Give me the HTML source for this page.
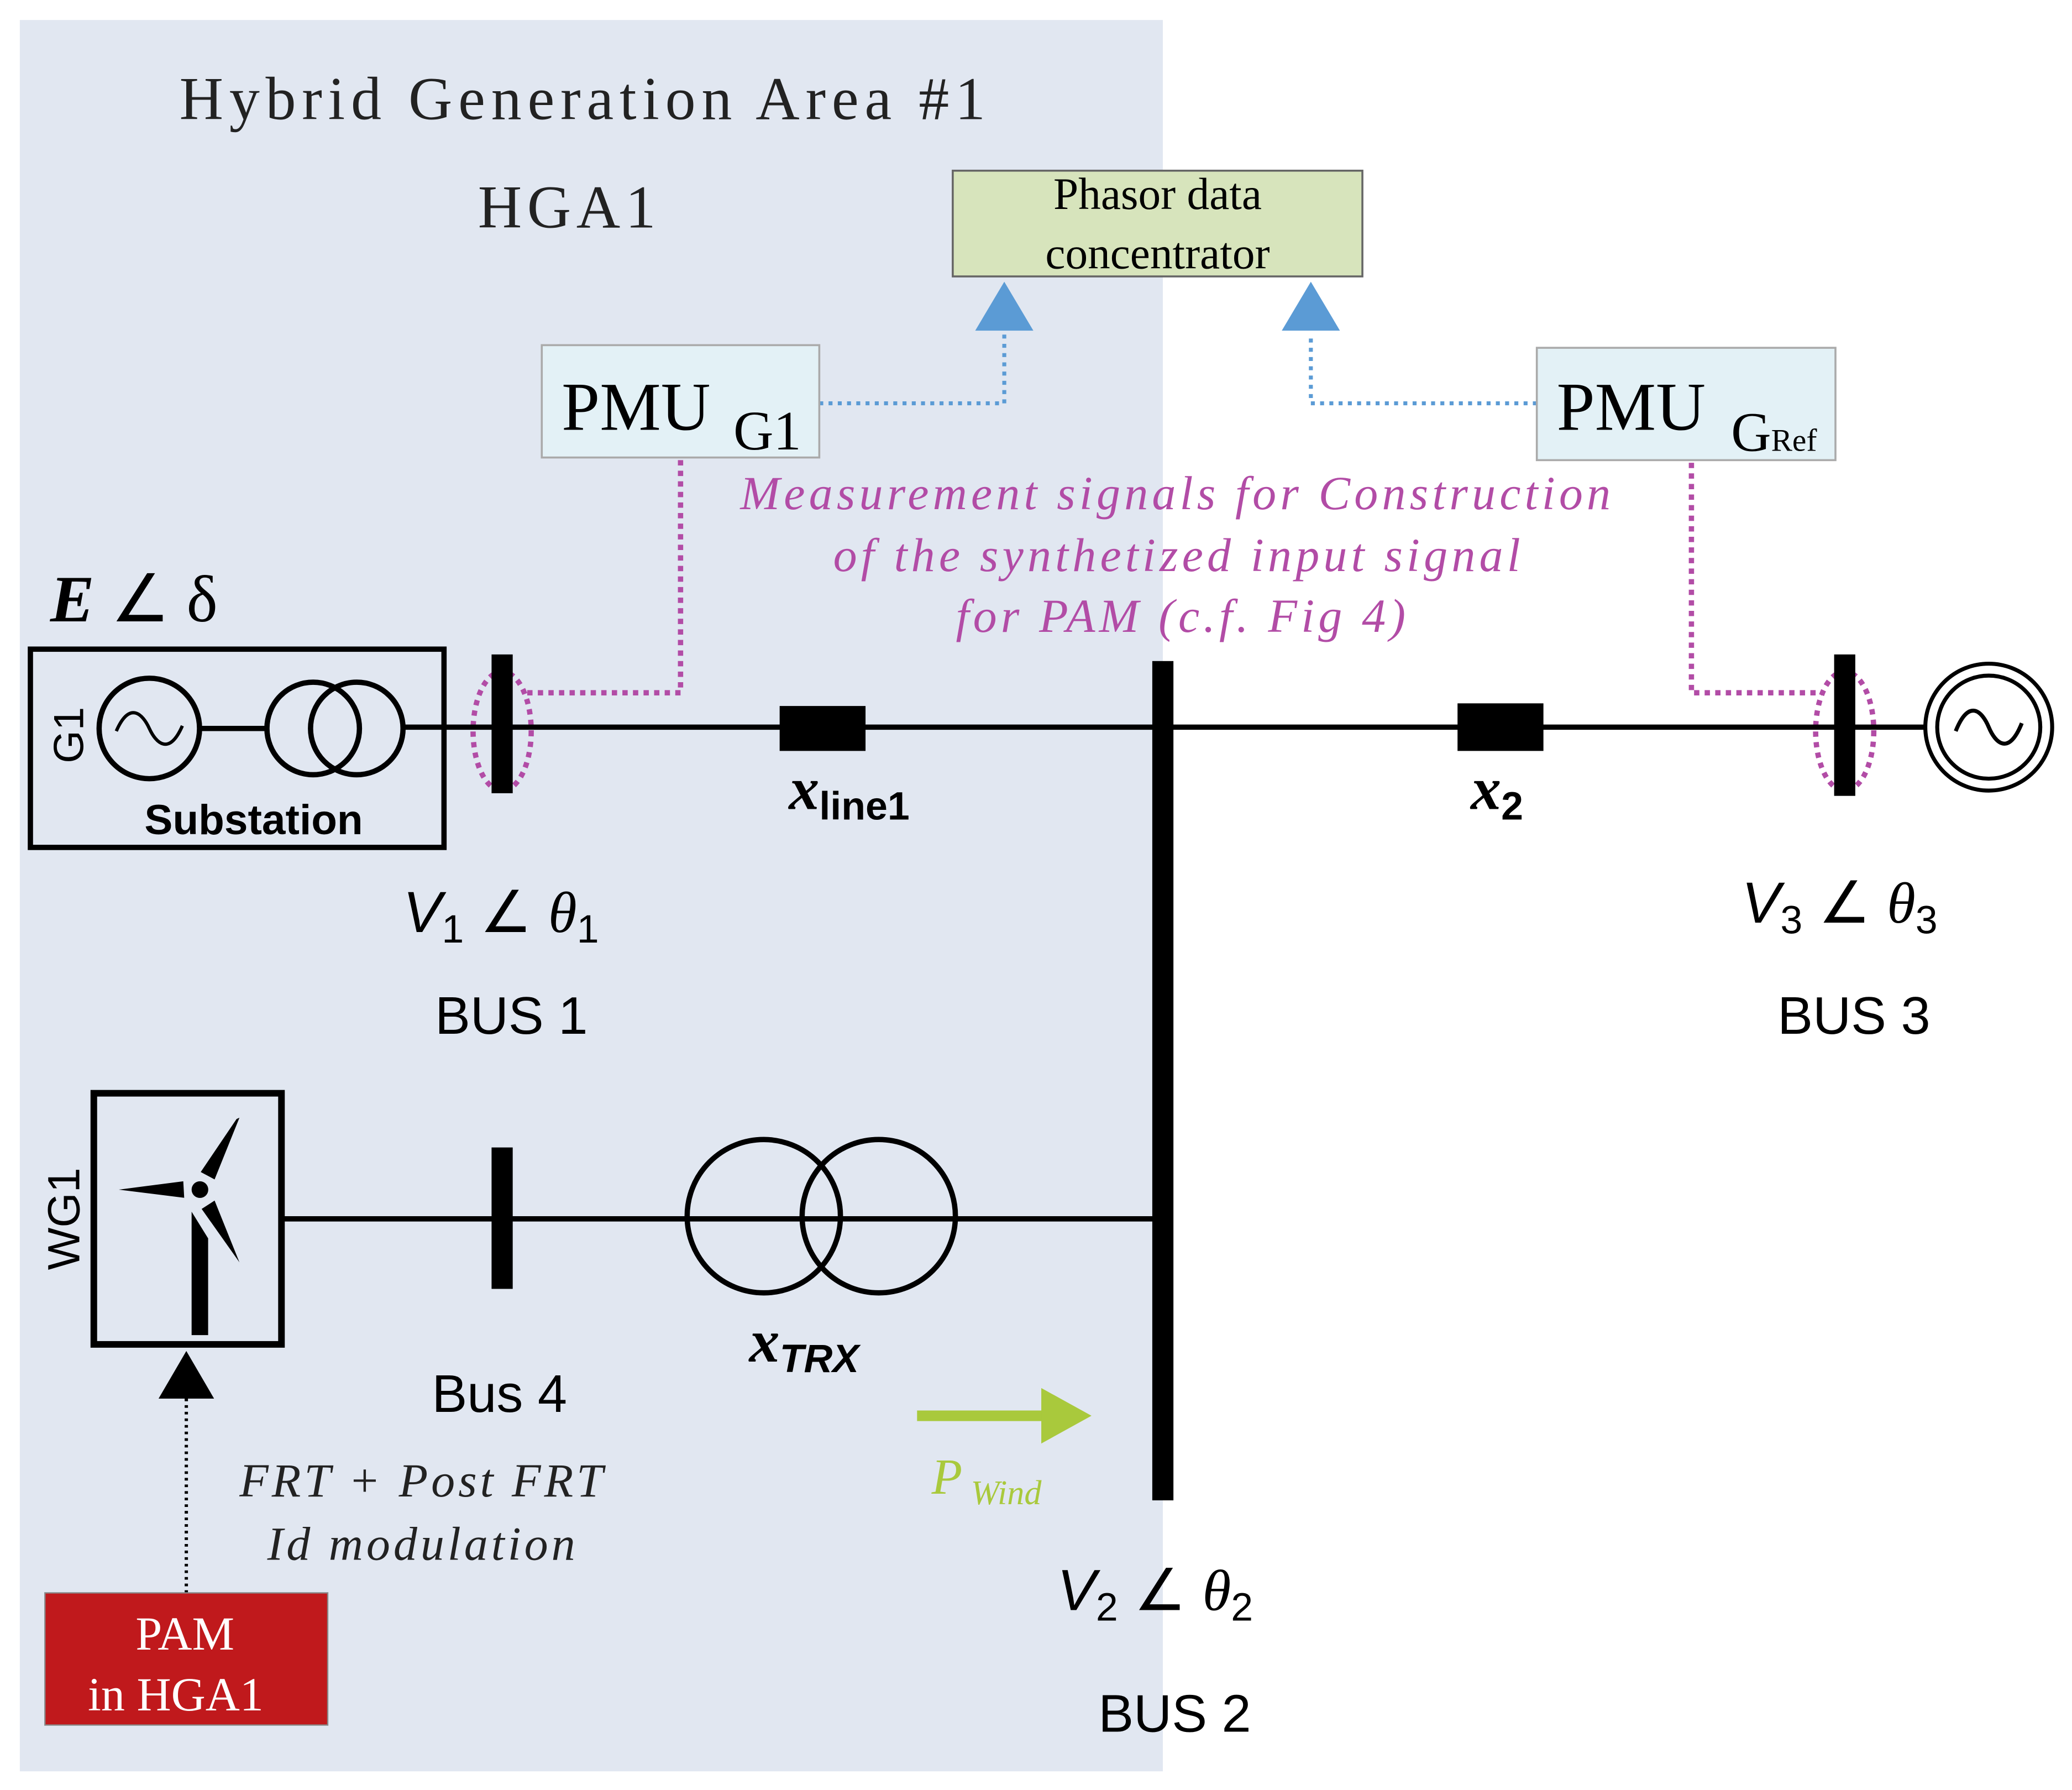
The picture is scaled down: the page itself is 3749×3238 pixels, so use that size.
<!DOCTYPE html>
<html><head><meta charset="utf-8"><style>html,body{margin:0;padding:0;background:#fff}svg{display:block}</style></head>
<body>
<svg width="3749" height="3238" viewBox="0 0 1568 1354" xmlns="http://www.w3.org/2000/svg">
<rect x="0" y="0" width="1568" height="1354" fill="#fff"/>
<rect x="15" y="15" width="865" height="1325" fill="#e1e7f1"/>
<g font-family="Liberation Serif, serif" fill="#222">
<text x="443" y="90" font-size="46" text-anchor="middle" letter-spacing="4.5">Hybrid Generation Area #1</text>
<text x="431" y="172" font-size="46" text-anchor="middle" letter-spacing="4">HGA1</text>
</g>
<rect x="721" y="129" width="310" height="80" fill="#d7e4bc" stroke="#666" stroke-width="1.5"/>
<g font-family="Liberation Serif, serif" font-size="34" text-anchor="middle" fill="#000">
<text x="876" y="158">Phasor data</text><text x="876" y="203">concentrator</text></g>
<polygon points="760,213 738,250 782,250" fill="#5b9bd5"/>
<polygon points="992,213 970,250 1014,250" fill="#5b9bd5"/>
<g fill="none" stroke="#5b9bd5" stroke-width="3" stroke-dasharray="3,4">
<polyline points="620,305 760,305 760,252"/>
<polyline points="1163,305 992,305 992,252"/></g>
<rect x="410" y="261" width="210" height="85" fill="#e3f1f6" stroke="#aaa" stroke-width="1.5"/>
<text x="425" y="325" font-family="Liberation Serif, serif" font-size="52">PMU</text>
<text x="555" y="340" font-family="Liberation Serif, serif" font-size="42">G1</text>
<rect x="1163" y="263" width="226" height="85" fill="#e3f1f6" stroke="#aaa" stroke-width="1.5"/>
<text x="1178" y="325" font-family="Liberation Serif, serif" font-size="52">PMU</text>
<text x="1310" y="341" font-family="Liberation Serif, serif" font-size="42">G<tspan font-size="24">Ref</tspan></text>
<g font-family="Liberation Serif, serif" font-style="italic" font-size="36" fill="#b24ca6" text-anchor="middle" letter-spacing="3">
<text x="891" y="385">Measurement signals for Construction</text>
<text x="892" y="432">of the synthetized input signal</text>
<text x="895" y="478">for PAM (c.f. Fig 4)</text></g>
<g fill="none" stroke="#b24ca6" stroke-width="4" stroke-dasharray="4,4">
<polyline points="515,348 515,524 395,524"/>
<ellipse cx="380" cy="553" rx="22" ry="45"/>
<polyline points="1280,350 1280,524 1380,524"/>
<ellipse cx="1396" cy="553" rx="22" ry="45"/></g>
<text x="38" y="470" font-family="Liberation Serif, serif" font-size="50"><tspan font-weight="bold" font-style="italic">E</tspan> ∠ δ</text>
<rect x="23" y="491" width="313" height="150" fill="none" stroke="#000" stroke-width="4"/>
<g fill="none" stroke="#000" stroke-width="4">
<circle cx="113" cy="551" r="38"/>
<path d="M88,553 C98,530 108,540 113,551 C118,562 128,572 138,549" stroke-width="2.5"/>
<line x1="151" y1="551" x2="202" y2="551"/>
<circle cx="237" cy="551" r="35"/><circle cx="270" cy="551" r="35"/>
<line x1="305" y1="550" x2="1458" y2="550"/>
<line x1="213" y1="922" x2="880" y2="922"/>
<circle cx="578" cy="920" r="58"/><circle cx="665" cy="920" r="58"/>
<circle cx="1505" cy="550" r="48" stroke-width="3"/><circle cx="1505" cy="550" r="39" stroke-width="3"/>
<path d="M1480,553 C1490,528 1500,538 1505,550 C1510,562 1520,572 1530,547" stroke-width="3"/>
<rect x="71" y="827" width="142" height="190" stroke-width="5"/>
</g>
<text transform="translate(63,556) rotate(-90)" font-family="Liberation Sans, sans-serif" font-size="32" text-anchor="middle">G1</text>
<text x="192" y="631" font-family="Liberation Sans, sans-serif" font-weight="bold" font-size="32" text-anchor="middle">Substation</text>
<rect x="372" y="495" width="16" height="105" fill="#000"/>
<rect x="872" y="500" width="16" height="635" fill="#000"/>
<rect x="1388" y="495" width="16" height="107" fill="#000"/>
<rect x="372" y="868" width="16" height="107" fill="#000"/>
<rect x="590" y="534" width="65" height="34" fill="#000"/>
<rect x="1103" y="532" width="65" height="36" fill="#000"/>
<text x="597" y="612" font-family="Liberation Serif, serif" font-weight="bold" font-style="italic" font-size="46">x<tspan font-family="Liberation Sans, sans-serif" font-style="normal" font-size="30" dy="8">line1</tspan></text>
<text x="1113" y="612" font-family="Liberation Serif, serif" font-weight="bold" font-style="italic" font-size="46">x<tspan font-family="Liberation Sans, sans-serif" font-style="normal" font-size="30" dy="8">2</tspan></text>
<text x="567" y="1030" font-family="Liberation Serif, serif" font-weight="bold" font-style="italic" font-size="46">x<tspan font-family="Liberation Sans, sans-serif" font-size="30" dy="8">TRX</tspan></text>
<g font-family="Liberation Sans, sans-serif" font-size="44">
<text x="305" y="705"><tspan font-style="italic">V</tspan><tspan font-size="30" dy="8">1</tspan><tspan dy="-8"> ∠ </tspan><tspan font-family="Liberation Serif, serif" font-style="italic">θ</tspan><tspan font-size="30" dy="8">1</tspan></text>
<text x="1318" y="698"><tspan font-style="italic">V</tspan><tspan font-size="30" dy="8">3</tspan><tspan dy="-8"> ∠ </tspan><tspan font-family="Liberation Serif, serif" font-style="italic">θ</tspan><tspan font-size="30" dy="8">3</tspan></text>
<text x="800" y="1218"><tspan font-style="italic">V</tspan><tspan font-size="30" dy="8">2</tspan><tspan dy="-8"> ∠ </tspan><tspan font-family="Liberation Serif, serif" font-style="italic">θ</tspan><tspan font-size="30" dy="8">2</tspan></text>
</g>
<g font-family="Liberation Sans, sans-serif" font-size="40" text-anchor="middle">
<text x="387" y="782">BUS 1</text><text x="1403" y="782">BUS 3</text>
<text x="378" y="1068">Bus 4</text><text x="889" y="1310">BUS 2</text></g>
<text transform="translate(60,922) rotate(-90)" font-family="Liberation Sans, sans-serif" font-size="34" text-anchor="middle">WG1</text>
<g fill="#000">
<polygon points="145,916.6 157.5,936.8 157.5,1010 145,1010"/>
<polygon points="151.9,886.6 162.4,892.2 181.2,845.5 179,846.5"/>
<polygon points="138.7,893.6 139.4,906.1 89.9,899.9"/>
<polygon points="152.6,914.5 162.4,908.2 181.2,954.9"/>
<circle cx="151.3" cy="899.9" r="6.3"/></g>
<polygon points="141,1022 120,1058 162,1058" fill="#000"/>
<line x1="141" y1="1058" x2="141" y2="1205" stroke="#000" stroke-width="2.5" stroke-dasharray="2,3"/>
<g font-family="Liberation Serif, serif" font-style="italic" font-size="36" text-anchor="middle" letter-spacing="2.5" fill="#222">
<text x="320" y="1132">FRT + Post FRT</text><text x="320" y="1180">Id modulation</text></g>
<rect x="34" y="1205" width="214" height="100" fill="#c0191c" stroke="#888" stroke-width="1"/>
<g font-family="Liberation Serif, serif" font-size="36" fill="#fff" text-anchor="middle">
<text x="140" y="1248">PAM</text><text x="133" y="1294">in HGA1</text></g>
<line x1="694" y1="1071" x2="792" y2="1071" stroke="#a9c93c" stroke-width="8"/>
<polygon points="788,1050 826,1071 788,1092" fill="#a9c93c"/>
<text x="705" y="1130" font-family="Liberation Serif, serif" font-style="italic" font-size="38" fill="#a9c93c">P<tspan font-size="26" dy="8"> Wind</tspan></text>
</svg>
</body></html>
